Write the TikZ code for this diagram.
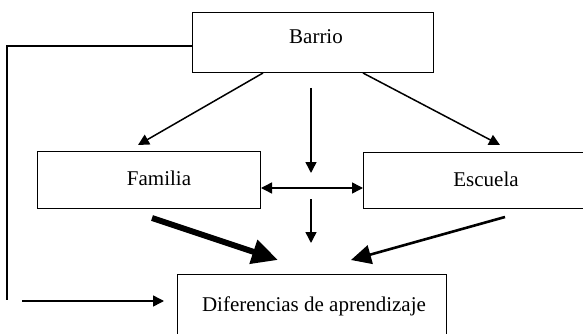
\documentclass[tikz,border=0pt]{standalone}
\usepackage{fontspec}
\setmainfont{Liberation Serif}
\usetikzlibrary{arrows.meta}
\begin{document}
\begin{tikzpicture}[x=1pt,y=-1pt,
  box/.style={draw, line width=1pt, inner sep=0pt, rectangle},
  txt/.style={inner sep=0pt, font=\fontsize{21}{25}\selectfont},
  conn/.style={line width=1.5pt},
  thin arrow/.style={conn, -{Triangle[length=11pt,width=11pt]}},
  dbl arrow/.style={conn, {Triangle[length=11pt,width=11pt]}-{Triangle[length=11pt,width=11pt]}},
  thick arrow/.style={line width=6pt, -{Triangle[length=26pt,width=24pt]}},
  mid arrow/.style={line width=2.6pt, -{Triangle[length=20pt,width=19pt]}}]
\useasboundingbox[fill=white] (0,0) rectangle (583,334);
% boxes
\node[box, minimum width=241pt, minimum height=60.3pt] (barrio) at (312.5,42.85) {};
\node[box, minimum width=223pt, minimum height=57pt] (familia) at (148.5,179.5) {};
\node[box, minimum width=223pt, minimum height=56pt] (escuela) at (475,180) {};
\node[box, minimum width=269pt, minimum height=64pt] (dif) at (311.5,306) {};
% texts
\node[txt] (barriot) at (316,37) {Barrio};
\node[txt] (familiat) at (159,178) {Familia};
\node[txt] (escuelat) at (486,179) {Escuela};
\node[txt] (dift) at (314,306) {Diferencias de aprendizaje};
% connector end points
\coordinate (bl) at (263,73);
\coordinate (blt) at (138,145);
\coordinate (br) at (363,73);
\coordinate (brt) at (500,145);
\coordinate (c1s) at (311,88);
\coordinate (c1t) at (311,173);
\coordinate (d1) at (261,188);
\coordinate (d2) at (363,188);
\coordinate (c2s) at (311,199);
\coordinate (c2t) at (311,243);
\coordinate (fs) at (152,218);
\coordinate (ft) at (278,260);
\coordinate (es) at (505,217);
\coordinate (et) at (351,260);
\coordinate (lb) at (192,46);
\coordinate (lc1) at (7,46);
\coordinate (lc2) at (7,300);
\coordinate (hs) at (22,301);
\coordinate (ht) at (164,301);
% connectors
\draw[thin arrow] (bl) -- (blt);
\draw[thin arrow] (br) -- (brt);
\draw[thin arrow] (c1s) -- (c1t);
\draw[dbl arrow] (d1) -- (d2);
\draw[thin arrow] (c2s) -- (c2t);
\draw[thick arrow] (fs) -- (ft);
\draw[mid arrow] (es) -- (et);
\draw[conn] (lb) -- (lc1) -- (lc2);
\draw[thin arrow] (hs) -- (ht);
\end{tikzpicture}
\end{document}
